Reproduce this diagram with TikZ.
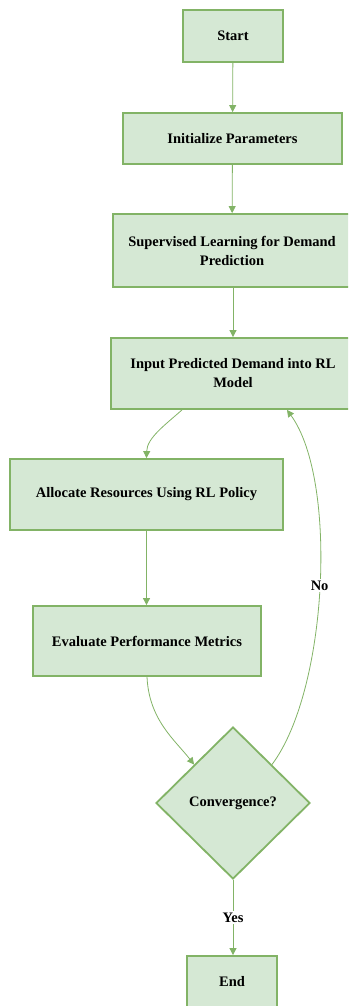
\documentclass[tikz,border=0pt]{standalone}
\usepackage{fontspec}
\setmainfont{Liberation Serif}
\usetikzlibrary{shapes.geometric,arrows.meta}
\definecolor{bfill}{HTML}{D5E8D4}
\definecolor{bline}{HTML}{82B366}
\begin{document}
\begin{tikzpicture}[x=1pt,y=-1pt,
  box/.style={draw=bline, fill=bfill, line width=1.8pt, align=center,
    font=\bfseries\fontsize{14.5}{19}\selectfont, inner sep=0pt},
  dia/.style={draw=bline, fill=bfill, line width=1.8pt, diamond, aspect=1,
    minimum width=154pt, minimum height=152pt, inner sep=0pt,
    font=\bfseries\fontsize{14.5}{19}\selectfont},
  conn/.style={draw=bline, line width=0.8pt, -{Triangle[length=7pt,width=7pt]}},
  lbl/.style={fill=white, font=\bfseries\fontsize{14.5}{19}\selectfont, inner sep=1.5pt}]
\useasboundingbox (0,0) rectangle (348,1006);
\clip (0,0) rectangle (348,1006);
\node[box, minimum width=100pt, minimum height=52pt] (start) at (233,36) {Start};
\node[box, minimum width=219pt, minimum height=51pt] (init) at (232.5,138.5) {Initialize Parameters};
\node[box, minimum width=238pt, minimum height=73pt] (sup) at (232,250.5) {Supervised Learning for Demand\\Prediction};
\node[box, minimum width=244pt, minimum height=71pt] (inp) at (233,373.5) {Input Predicted Demand into RL\\Model};
\node[box, minimum width=273pt, minimum height=71pt] (alloc) at (146.5,494.5) {Allocate Resources Using RL Policy};
\node[box, minimum width=228pt, minimum height=70pt] (eval) at (147,641) {Evaluate Performance Metrics};
\node[dia] (conv) at (233,803) {Convergence?};
\node[box, minimum width=90pt, minimum height=52pt] (end) at (232,982) {End};
\draw[conn] (start) -- (init);
\draw[conn] (init) -- (sup);
\draw[conn] (sup.south -| inp.north) -- (inp);
\draw[conn] ([xshift=-51]inp.south) .. controls (165,425) and (147,438) .. (alloc.north);
\draw[conn] (alloc) -- (eval.north -| alloc.south);
\draw[conn] (eval.south) .. controls (149,720) and (175,740) .. (conv.north west);
\draw[conn] (conv.north east) .. controls (328,690) and (338,480) .. node[lbl, pos=0.5] (no) {No} ([xshift=54]inp.south);
\draw[conn] (conv.south) -- node[lbl, pos=0.5] (yes) {Yes} (end.north -| conv.south);
\end{tikzpicture}
\end{document}
